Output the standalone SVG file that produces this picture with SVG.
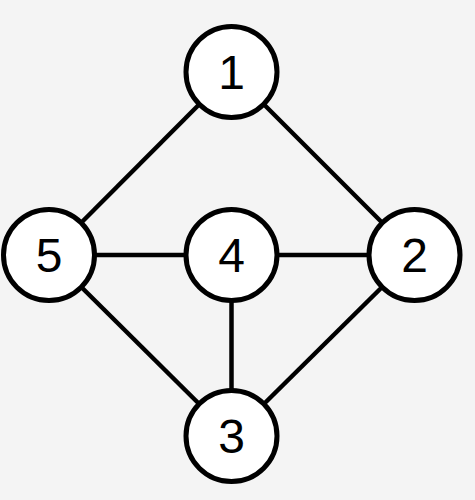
<svg xmlns="http://www.w3.org/2000/svg" width="475" height="500" viewBox="0 0 475 500">
<style>
.edge{stroke:#000;stroke-width:4.5;fill:none}
.node circle{fill:#fff;stroke:#000;stroke-width:5}
.node text{font-family:"Liberation Sans",Arial,sans-serif;font-size:48px;fill:#000;text-anchor:middle;dominant-baseline:central}
</style>
<rect width="475" height="500" fill="#f4f4f4"/>
<g id="edges">
<line class="edge" x1="231.5" y1="72" x2="49" y2="255"/>
<line class="edge" x1="231.5" y1="72" x2="414.5" y2="255"/>
<line class="edge" x1="49" y1="255" x2="231.5" y2="255"/>
<line class="edge" x1="231.5" y1="255" x2="414.5" y2="255"/>
<line class="edge" x1="49" y1="255" x2="231.5" y2="436"/>
<line class="edge" x1="231.5" y1="255" x2="231.5" y2="436"/>
<line class="edge" x1="414.5" y1="255" x2="231.5" y2="436"/>
</g>
<g id="node1" class="node"><circle cx="231.5" cy="72" r="45.5"/><text x="231.5" y="72">1</text></g>
<g id="node2" class="node"><circle cx="414.5" cy="255" r="45.5"/><text x="414.5" y="255">2</text></g>
<g id="node3" class="node"><circle cx="231.5" cy="436" r="45.5"/><text x="231.5" y="436">3</text></g>
<g id="node4" class="node"><circle cx="231.5" cy="255" r="45.5"/><text x="231.5" y="255">4</text></g>
<g id="node5" class="node"><circle cx="49" cy="255" r="45.5"/><text x="49" y="255">5</text></g>
</svg>
